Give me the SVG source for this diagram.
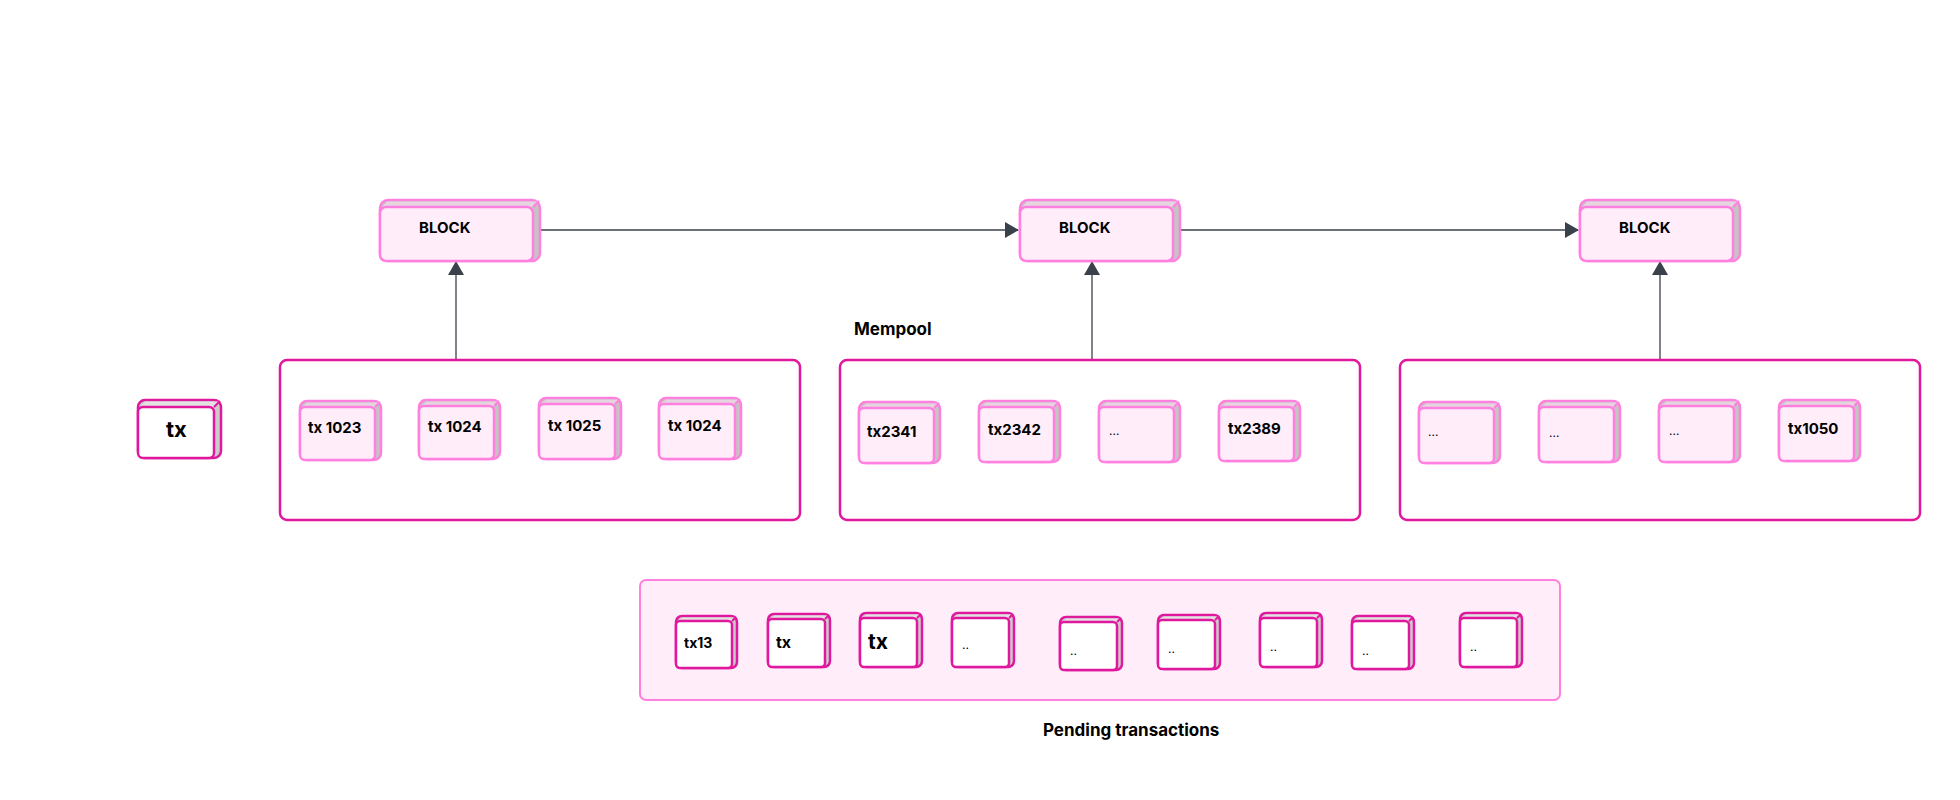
<svg xmlns="http://www.w3.org/2000/svg" width="1960" height="800" viewBox="0 0 1960 800">
<style>
  text { font-family: Inter, "Noto Sans", "Liberation Sans", sans-serif; fill: #000; }
  .lbl { font-weight: 700; }
  .dots { font-weight: 400; font-size: 12px; }
  .pool { fill: #ffffff; stroke: #e0189e; stroke-width: 2.5; }
  .pend { fill: #ffeefa; stroke: #ff80de; stroke-width: 2; }
  .pk-side { fill: #c6c2c5; stroke: #ff80de; stroke-width: 2.5; }
  .pk-top { fill: #e6d4e0; }
  .pk-front { fill: #ffeefa; stroke: #ff80de; stroke-width: 2.5; }
  .pk-diag { stroke: #ff80de; stroke-width: 2; fill: none; }
  .mg-side { fill: #cbcbcb; stroke: #e0189e; stroke-width: 2.5; }
  .mg-top { fill: #e4e1e3; }
  .mg-front { fill: #ffffff; stroke: #e0189e; stroke-width: 2.5; }
  .mg-diag { stroke: #e0189e; stroke-width: 2; fill: none; }
  .conn { stroke: #3b414b; stroke-width: 1.3; fill: none; }
</style>
<defs>
  <marker id="arr" viewBox="0 0 14 16" refX="13" refY="8" markerWidth="14" markerHeight="16" markerUnits="userSpaceOnUse" orient="auto">
    <path d="M0,0 L14,8 L0,16 Z" fill="#3b414b"/>
  </marker>
</defs>

<!-- Connectors -->
<g id="connectors">
  <path class="conn" d="M541,230 H1018" marker-end="url(#arr)"/>
  <path class="conn" d="M1181,230 H1578" marker-end="url(#arr)"/>
  <path class="conn" d="M456,360 V262" marker-end="url(#arr)"/>
  <path class="conn" d="M1092,360 V262" marker-end="url(#arr)"/>
  <path class="conn" d="M1660,360 V262" marker-end="url(#arr)"/>
</g>

<!-- Blocks -->
<g id="block1">
  <rect class="pk-side" x="380" y="200" width="160" height="61" rx="8"/>
  <path class="pk-top" d="M382,207 L387,201.5 H538 L533,207 Z"/>
  <rect class="pk-front" x="380" y="207" width="153" height="54" rx="6"/>
  <path class="pk-diag" d="M533,207 L539,201"/>
  <text class="lbl" x="419" y="233" font-size="15">BLOCK</text>
</g>
<g id="block2">
  <rect class="pk-side" x="1020" y="200" width="160" height="61" rx="8"/>
  <path class="pk-top" d="M1022,207 L1027,201.5 H1178 L1173,207 Z"/>
  <rect class="pk-front" x="1020" y="207" width="153" height="54" rx="6"/>
  <path class="pk-diag" d="M1173,207 L1179,201"/>
  <text class="lbl" x="1059" y="233" font-size="15">BLOCK</text>
</g>
<g id="block3">
  <rect class="pk-side" x="1580" y="200" width="160" height="61" rx="8"/>
  <path class="pk-top" d="M1582,207 L1587,201.5 H1738 L1733,207 Z"/>
  <rect class="pk-front" x="1580" y="207" width="153" height="54" rx="6"/>
  <path class="pk-diag" d="M1733,207 L1739,201"/>
  <text class="lbl" x="1619" y="233" font-size="15">BLOCK</text>
</g>

<!-- Mempool label -->
<g id="mempool-label">
  <text class="lbl" x="854" y="335" font-size="17">Mempool</text>
</g>

<!-- Standalone tx -->
<g id="tx-single">
  <rect class="mg-side" x="138" y="400" width="83" height="58" rx="7"/>
  <path class="mg-top" d="M140,407 L145,401.5 H219 L214,407 Z"/>
  <rect class="mg-front" x="138" y="407" width="76" height="51" rx="5"/>
  <path class="mg-diag" d="M214,407 L220,401"/>
  <text class="lbl" x="166" y="437" font-size="22">tx</text>
</g>

<!-- Mempool box 1 -->
<g id="mempool1">
  <rect class="pool" x="280" y="360" width="520" height="160" rx="7"/>
  <g id="m1-tx1">
    <rect class="pk-side" x="300" y="401" width="81" height="59" rx="7"/>
    <path class="pk-top" d="M302,407 L307,402.5 H379 L375,407 Z"/>
    <rect class="pk-front" x="300" y="407" width="75" height="53" rx="5"/>
    <path class="pk-diag" d="M375,407 L380,402"/>
    <text class="lbl" x="308" y="433" font-size="15">tx 1023</text>
  </g>
  <g id="m1-tx2">
    <rect class="pk-side" x="419" y="400" width="81" height="59" rx="7"/>
    <path class="pk-top" d="M421,406 L426,401.5 H498 L494,406 Z"/>
    <rect class="pk-front" x="419" y="406" width="75" height="53" rx="5"/>
    <path class="pk-diag" d="M494,406 L499,401"/>
    <text class="lbl" x="428" y="432" font-size="15">tx 1024</text>
  </g>
  <g id="m1-tx3">
    <rect class="pk-side" x="539" y="398" width="82" height="61" rx="7"/>
    <path class="pk-top" d="M541,404 L546,399.5 H619 L615,404 Z"/>
    <rect class="pk-front" x="539" y="404" width="76" height="55" rx="5"/>
    <path class="pk-diag" d="M615,404 L620,399"/>
    <text class="lbl" x="548" y="431" font-size="15">tx 1025</text>
  </g>
  <g id="m1-tx4">
    <rect class="pk-side" x="659" y="398" width="82" height="61" rx="7"/>
    <path class="pk-top" d="M661,404 L666,399.5 H739 L735,404 Z"/>
    <rect class="pk-front" x="659" y="404" width="76" height="55" rx="5"/>
    <path class="pk-diag" d="M735,404 L740,399"/>
    <text class="lbl" x="668" y="431" font-size="15">tx 1024</text>
  </g>
</g>

<!-- Mempool box 2 -->
<g id="mempool2">
  <rect class="pool" x="840" y="360" width="520" height="160" rx="7"/>
  <g id="m2-tx1">
    <rect class="pk-side" x="859" y="402" width="81" height="61" rx="7"/>
    <path class="pk-top" d="M861,408 L866,403.5 H938 L934,408 Z"/>
    <rect class="pk-front" x="859" y="408" width="75" height="55" rx="5"/>
    <path class="pk-diag" d="M934,408 L939,403"/>
    <text class="lbl" x="867" y="437" font-size="15">tx2341</text>
  </g>
  <g id="m2-tx2">
    <rect class="pk-side" x="979" y="401" width="81" height="61" rx="7"/>
    <path class="pk-top" d="M981,407 L986,402.5 H1058 L1054,407 Z"/>
    <rect class="pk-front" x="979" y="407" width="75" height="55" rx="5"/>
    <path class="pk-diag" d="M1054,407 L1059,402"/>
    <text class="lbl" x="988" y="435" font-size="15">tx2342</text>
  </g>
  <g id="m2-tx3">
    <rect class="pk-side" x="1099" y="401" width="81" height="61" rx="7"/>
    <path class="pk-top" d="M1101,407 L1106,402.5 H1178 L1174,407 Z"/>
    <rect class="pk-front" x="1099" y="407" width="75" height="55" rx="5"/>
    <path class="pk-diag" d="M1174,407 L1179,402"/>
    <text class="dots" x="1109" y="435">...</text>
  </g>
  <g id="m2-tx4">
    <rect class="pk-side" x="1219" y="401" width="81" height="60" rx="7"/>
    <path class="pk-top" d="M1221,407 L1226,402.5 H1298 L1294,407 Z"/>
    <rect class="pk-front" x="1219" y="407" width="75" height="54" rx="5"/>
    <path class="pk-diag" d="M1294,407 L1299,402"/>
    <text class="lbl" x="1228" y="434" font-size="15">tx2389</text>
  </g>
</g>

<!-- Mempool box 3 -->
<g id="mempool3">
  <rect class="pool" x="1400" y="360" width="520" height="160" rx="7"/>
  <g id="m3-tx1">
    <rect class="pk-side" x="1419" y="402" width="81" height="61" rx="7"/>
    <path class="pk-top" d="M1421,408 L1426,403.5 H1498 L1494,408 Z"/>
    <rect class="pk-front" x="1419" y="408" width="75" height="55" rx="5"/>
    <path class="pk-diag" d="M1494,408 L1499,403"/>
    <text class="dots" x="1428" y="436">...</text>
  </g>
  <g id="m3-tx2">
    <rect class="pk-side" x="1539" y="401" width="81" height="61" rx="7"/>
    <path class="pk-top" d="M1541,407 L1546,402.5 H1618 L1614,407 Z"/>
    <rect class="pk-front" x="1539" y="407" width="75" height="55" rx="5"/>
    <path class="pk-diag" d="M1614,407 L1619,402"/>
    <text class="dots" x="1549" y="437">...</text>
  </g>
  <g id="m3-tx3">
    <rect class="pk-side" x="1659" y="400" width="81" height="62" rx="7"/>
    <path class="pk-top" d="M1661,406 L1666,401.5 H1738 L1734,406 Z"/>
    <rect class="pk-front" x="1659" y="406" width="75" height="56" rx="5"/>
    <path class="pk-diag" d="M1734,406 L1739,401"/>
    <text class="dots" x="1669" y="435">...</text>
  </g>
  <g id="m3-tx4">
    <rect class="pk-side" x="1779" y="400" width="81" height="61" rx="7"/>
    <path class="pk-top" d="M1781,406 L1786,401.5 H1858 L1854,406 Z"/>
    <rect class="pk-front" x="1779" y="406" width="75" height="55" rx="5"/>
    <path class="pk-diag" d="M1854,406 L1859,401"/>
    <text class="lbl" x="1788" y="434" font-size="15">tx1050</text>
  </g>
</g>

<!-- Pending transactions -->
<g id="pending">
  <rect class="pend" x="640" y="580" width="920" height="120" rx="6"/>
  <g id="p-tx1">
    <rect class="mg-side" x="676" y="616" width="61" height="52" rx="6"/>
    <path class="mg-top" d="M678,621 L682,617.5 H735 L732,621 Z"/>
    <rect class="mg-front" x="676" y="621" width="56" height="47" rx="4"/>
    <path class="mg-diag" d="M732,621 L736,617"/>
    <text class="lbl" x="684" y="648" font-size="14">tx13</text>
  </g>
  <g id="p-tx2">
    <rect class="mg-side" x="768" y="614" width="62" height="53" rx="6"/>
    <path class="mg-top" d="M770,619 L774,615.5 H828 L825,619 Z"/>
    <rect class="mg-front" x="768" y="619" width="57" height="48" rx="4"/>
    <path class="mg-diag" d="M825,619 L829,615"/>
    <text class="lbl" x="776" y="648" font-size="16">tx</text>
  </g>
  <g id="p-tx3">
    <rect class="mg-side" x="860" y="613" width="62" height="54" rx="6"/>
    <path class="mg-top" d="M862,618 L866,614.5 H920 L917,618 Z"/>
    <rect class="mg-front" x="860" y="618" width="57" height="49" rx="4"/>
    <path class="mg-diag" d="M917,618 L921,614"/>
    <text class="lbl" x="868" y="649" font-size="21">tx</text>
  </g>
  <g id="p-tx4">
    <rect class="mg-side" x="952" y="613" width="62" height="54" rx="6"/>
    <path class="mg-top" d="M954,618 L958,614.5 H1012 L1009,618 Z"/>
    <rect class="mg-front" x="952" y="618" width="57" height="49" rx="4"/>
    <path class="mg-diag" d="M1009,618 L1013,614"/>
    <text class="dots" x="962" y="649">..</text>
  </g>
  <g id="p-tx5">
    <rect class="mg-side" x="1060" y="617" width="62" height="53" rx="6"/>
    <path class="mg-top" d="M1062,622 L1066,618.5 H1120 L1117,622 Z"/>
    <rect class="mg-front" x="1060" y="622" width="57" height="48" rx="4"/>
    <path class="mg-diag" d="M1117,622 L1121,618"/>
    <text class="dots" x="1070" y="655">..</text>
  </g>
  <g id="p-tx6">
    <rect class="mg-side" x="1158" y="615" width="62" height="54" rx="6"/>
    <path class="mg-top" d="M1160,620 L1164,616.5 H1218 L1215,620 Z"/>
    <rect class="mg-front" x="1158" y="620" width="57" height="49" rx="4"/>
    <path class="mg-diag" d="M1215,620 L1219,616"/>
    <text class="dots" x="1168" y="653">..</text>
  </g>
  <g id="p-tx7">
    <rect class="mg-side" x="1260" y="613" width="62" height="54" rx="6"/>
    <path class="mg-top" d="M1262,618 L1266,614.5 H1320 L1317,618 Z"/>
    <rect class="mg-front" x="1260" y="618" width="57" height="49" rx="4"/>
    <path class="mg-diag" d="M1317,618 L1321,614"/>
    <text class="dots" x="1270" y="651">..</text>
  </g>
  <g id="p-tx8">
    <rect class="mg-side" x="1352" y="616" width="62" height="53" rx="6"/>
    <path class="mg-top" d="M1354,621 L1358,617.5 H1412 L1409,621 Z"/>
    <rect class="mg-front" x="1352" y="621" width="57" height="48" rx="4"/>
    <path class="mg-diag" d="M1409,621 L1413,617"/>
    <text class="dots" x="1362" y="655">..</text>
  </g>
  <g id="p-tx9">
    <rect class="mg-side" x="1460" y="613" width="62" height="54" rx="6"/>
    <path class="mg-top" d="M1462,618 L1466,614.5 H1520 L1517,618 Z"/>
    <rect class="mg-front" x="1460" y="618" width="57" height="49" rx="4"/>
    <path class="mg-diag" d="M1517,618 L1521,614"/>
    <text class="dots" x="1470" y="651">..</text>
  </g>
</g>

<g id="pending-label">
  <text class="lbl" x="1043" y="736" font-size="17">Pending transactions</text>
</g>
</svg>
